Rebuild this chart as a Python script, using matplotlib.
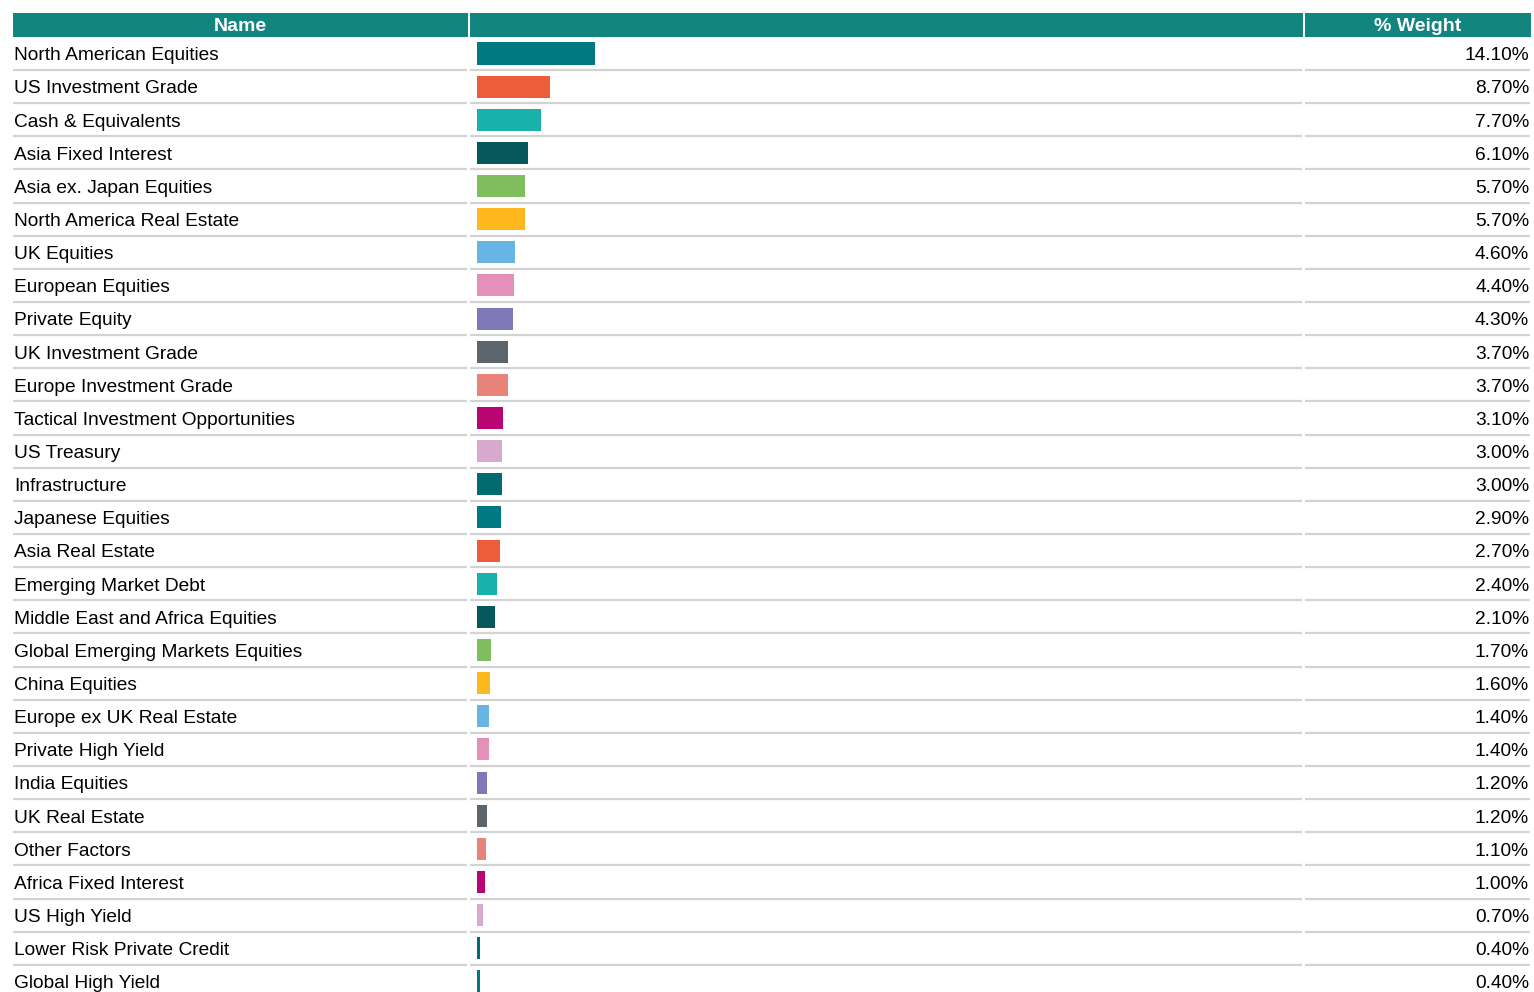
import matplotlib
matplotlib.use("Agg")
import matplotlib.pyplot as plt
from matplotlib.patches import Rectangle

plt.rcParams['font.family'] = ['Liberation Sans', 'DejaVu Sans']

names = [
    "North American Equities", "US Investment Grade", "Cash & Equivalents",
    "Asia Fixed Interest", "Asia ex. Japan Equities", "North America Real Estate",
    "UK Equities", "European Equities", "Private Equity", "UK Investment Grade",
    "Europe Investment Grade", "Tactical Investment Opportunities", "US Treasury",
    "Infrastructure", "Japanese Equities", "Asia Real Estate",
    "Emerging Market Debt", "Middle East and Africa Equities",
    "Global Emerging Markets Equities", "China Equities", "Europe ex UK Real Estate",
    "Private High Yield", "India Equities", "UK Real Estate", "Other Factors",
    "Africa Fixed Interest", "US High Yield", "Lower Risk Private Credit",
    "Global High Yield",
]
weights = [
    14.10, 8.70, 7.70, 6.10, 5.70, 5.70, 4.60, 4.40, 4.30, 3.70, 3.70, 3.10, 3.00,
    3.00, 2.90, 2.70, 2.40, 2.10, 1.70, 1.60, 1.40, 1.40, 1.20, 1.20, 1.10, 1.00,
    0.70, 0.40, 0.40,
]
palette = [
    "#007880", "#EE5D3A", "#19B1AC", "#06585C", "#7FBD5F", "#FFB81C", "#68B4E5",
    "#E590BA", "#7F79B9", "#5C656C", "#E8837A", "#BB0474", "#D8A9CF", "#006C70",
]
headers = ["Name", "", "% Weight"]

W, H = 1534, 992
fig = plt.figure(figsize=(W / 100, H / 100), dpi=100)

# Row geometry (in row units; row i is centred on y=i)
row_px = 33.14
first_center_px = 53.5
y_top = -first_center_px / row_px
y_bot = (H - first_center_px) / row_px
n = len(names)

# Layout axes: x in pixel columns, y in rows
lay = fig.add_axes([0, 0, 1, 1])
lay.set_xlim(0, W)
lay.set_ylim(y_bot, y_top)
lay.axis("off")

# Bar axes spanning the middle column, 0-100 %
bar_x0, bar_w = 477, 836
bx = fig.add_axes([bar_x0 / W, 0, bar_w / W, 1])
bx.set_xlim(0, 100)
bx.set_ylim(y_bot, y_top)
bx.axis("off")
bx.patch.set_alpha(0)

colors = [palette[i % len(palette)] for i in range(n)]
bx.barh(range(n), weights, height=0.665, color=colors, left=0)

# Column extents
cols = [(13, 468), (470, 1303), (1305, 1531)]
head_color = "#13857F"
h_top = (13 - first_center_px) / row_px
h_bot = (37 - first_center_px) / row_px
for (x0, x1), label in zip(cols, headers):
    lay.add_patch(Rectangle((x0, h_top), x1 - x0, h_bot - h_top,
                            facecolor=head_color, edgecolor="none"))
    if label:
        lay.text((x0 + x1) / 2, (h_top + h_bot) / 2 + 0.04, label, ha="center",
                 va="center", color="white", fontsize=14, fontweight="bold")

# Row separators
for i in range(n):
    y = i + 0.5
    for (x0, x1) in cols:
        lay.plot([x0, x1 - 1], [y, y], color="#D3D3D3", lw=1.6,
                 solid_capstyle="butt")

# Labels and values
for i, (nm, wt) in enumerate(zip(names, weights)):
    lay.text(14, i + 0.07, nm, ha="left", va="center", fontsize=13.75,
             color="#000000")
    lay.text(1529, i + 0.07, f"{wt:.2f}%", ha="right", va="center",
             fontsize=13.75, color="#000000")

fig.savefig("out.png", dpi=100)
